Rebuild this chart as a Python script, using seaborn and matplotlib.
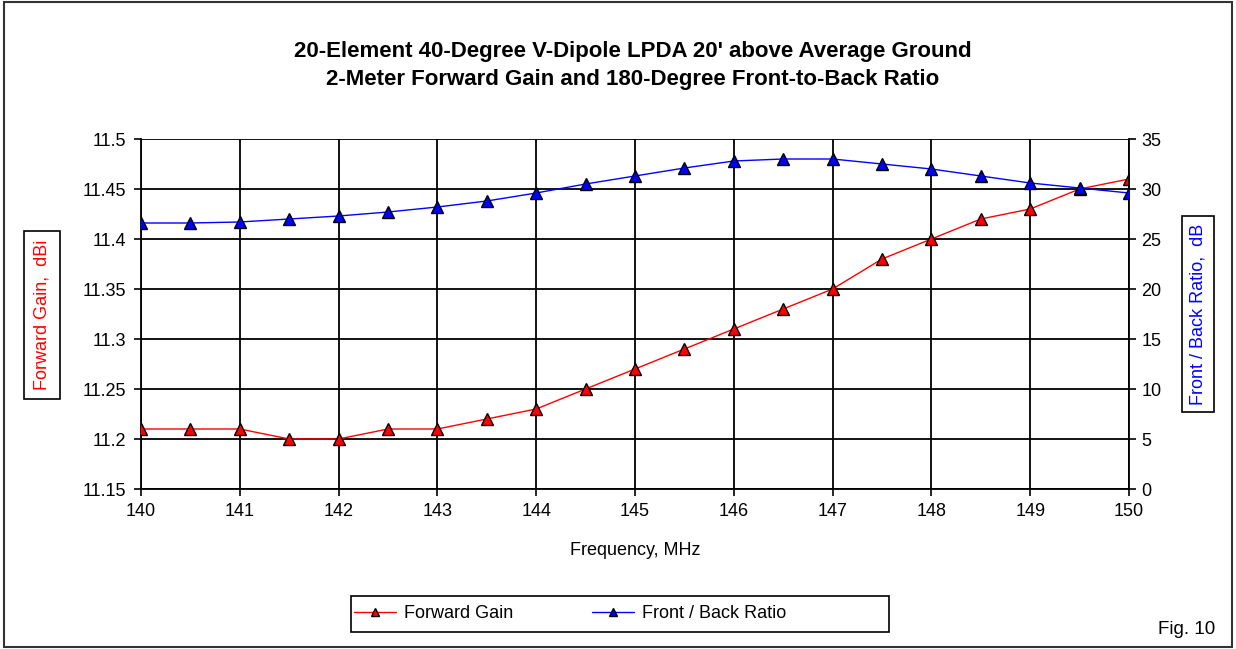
import numpy as np
import pandas as pd
import matplotlib
matplotlib.use("Agg")
import matplotlib.pyplot as plt
from matplotlib.patches import Rectangle
import seaborn as sns

freq = [140, 140.5, 141, 141.5, 142, 142.5, 143, 143.5, 144, 144.5, 145,
        145.5, 146, 146.5, 147, 147.5, 148, 148.5, 149, 149.5, 150]
gain = [11.21, 11.21, 11.21, 11.20, 11.20, 11.21, 11.21, 11.22, 11.23, 11.25, 11.27,
        11.29, 11.31, 11.33, 11.35, 11.38, 11.40, 11.42, 11.43, 11.45, 11.46]
fb_ratio = [26.6, 26.6, 26.7, 27.0, 27.3, 27.7, 28.2, 28.8, 29.6, 30.5, 31.3,
            32.1, 32.8, 33.0, 33.0, 32.5, 32.0, 31.3, 30.6, 30.1, 29.6]
gain_ticks = ["11.15", "11.2", "11.25", "11.3", "11.35", "11.4", "11.45", "11.5"]

sns.set_style("white")
plt.rcParams['font.family'] = ['Liberation Sans', 'DejaVu Sans']
plt.rcParams['text.color'] = 'black'
plt.rcParams['xtick.color'] = 'black'
plt.rcParams['ytick.color'] = 'black'
plt.rcParams['axes.labelcolor'] = 'black'

df = pd.DataFrame({"freq": freq, "gain": gain, "fb": fb_ratio})

W, H = 1236, 649
fig = plt.figure(figsize=(W / 100, H / 100), dpi=100)
ax = fig.add_axes([141 / W, 1 - 489 / H, 988 / W, 350 / H])
ax2 = ax.twinx()

sns.lineplot(data=df, x="freq", y="gain", ax=ax, color="red", lw=1,
             marker="^", markersize=8.5, markerfacecolor="red", markeredgecolor="black",
             markeredgewidth=1, label="Forward Gain", legend=False, zorder=3)
sns.lineplot(data=df, x="freq", y="fb", ax=ax2, color="blue", lw=1,
             marker="^", markersize=8.5, markerfacecolor="blue", markeredgecolor="black",
             markeredgewidth=1, label="Front / Back Ratio", legend=False, zorder=3)

ax.set_xlim(140, 150)
ax.set_ylim(11.15, 11.5)
ax2.set_ylim(0, 35)
ax.set_xticks(np.arange(140, 151, 1))
ax.set_yticks(np.arange(11.15, 11.501, 0.05))
ax.set_yticklabels(gain_ticks)
ax2.set_yticks(np.arange(0, 36, 5))

ax.grid(True, color="black", lw=1.3)
for a in (ax, ax2):
    a.tick_params(labelsize=13, length=5, width=1.2, color="black", direction="out")
    for s in a.spines.values():
        s.set_visible(False)
ax.tick_params(axis="y", left=True, pad=6)
ax.tick_params(axis="x", bottom=True, pad=5)
ax2.tick_params(axis="y", right=True, pad=4)
ax.spines["left"].set_visible(True)
ax.spines["bottom"].set_visible(True)
ax2.spines["right"].set_visible(True)
for s in (ax.spines["left"], ax.spines["bottom"], ax2.spines["right"]):
    s.set_color("black")
    s.set_linewidth(1.3)

ax.set_xlabel("Frequency, MHz", fontsize=13, labelpad=16)
ax.set_ylabel("")
ax2.set_ylabel("")

fig.text(42 / W, 1 - 315 / H, "Forward Gain,  dBi", rotation=90, color="red",
         fontsize=13, ha="center", va="center",
         bbox=dict(boxstyle="square,pad=0.5", fc="white", ec="black", lw=1.2))
fig.text(1198 / W, 1 - 314 / H, "Front / Back Ratio,  dB", rotation=90, color="blue",
         fontsize=13, ha="center", va="center",
         bbox=dict(boxstyle="square,pad=0.4", fc="white", ec="black", lw=1.2))

fig.text(633 / W, 1 - 52 / H, "20-Element 40-Degree V-Dipole LPDA 20' above Average Ground",
         fontsize=16, fontweight="bold", ha="center", va="center")
fig.text(633 / W, 1 - 80 / H, "2-Meter Forward Gain and 180-Degree Front-to-Back Ratio",
         fontsize=16, fontweight="bold", ha="center", va="center")
fig.text(1187 / W, 1 - 629 / H, "Fig. 10", fontsize=13.5, ha="center", va="center")

h1, l1 = ax.get_legend_handles_labels()
h2, l2 = ax2.get_legend_handles_labels()
leg = fig.legend(h1 + h2, l1 + l2, ncol=2, loc="center left",
                 bbox_to_anchor=(354 / W, 1 - 614 / H), fontsize=13,
                 frameon=False, columnspacing=4.4, handlelength=2.3,
                 handletextpad=0.45, borderpad=0, borderaxespad=0, markerscale=0.75)
fig.patches.append(Rectangle((351 / W, 1 - 632 / H), 538 / W, 36 / H,
                             transform=fig.transFigure, fill=False, ec="black", lw=1.2))

fig.patches.append(Rectangle((0.003, 0.003), 0.994, 0.994, transform=fig.transFigure,
                             fill=False, ec="#333333", lw=1.5))

fig.savefig("out.png", dpi=100)
